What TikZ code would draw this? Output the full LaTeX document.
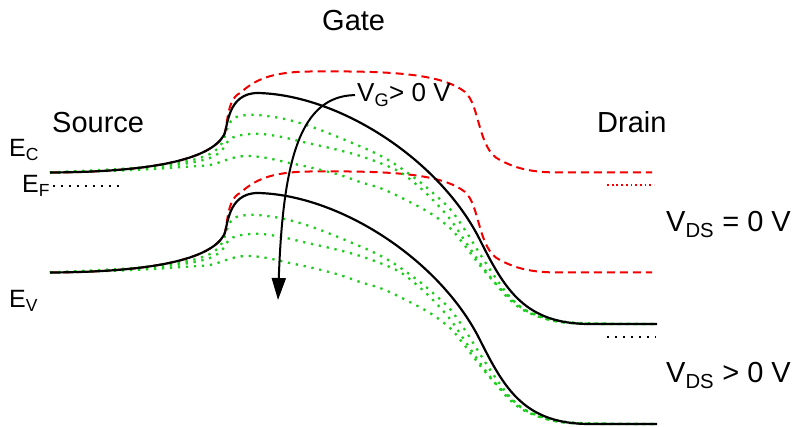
\documentclass[tikz,border=0pt]{standalone}
\usepackage{fontspec}
\setmainfont{Liberation Sans}
\usetikzlibrary{arrows.meta}
\definecolor{bandgreen}{RGB}{30,205,30}
\definecolor{bandred}{RGB}{240,0,0}
\tikzset{
  bandline/.style={line width=2.2pt, black, line join=round},
  vdszero/.style={line width=2pt, bandred, dash pattern=on 8pt off 5pt},
  vgline/.style={line width=2.3pt, bandgreen, dash pattern=on 2.3pt off 5.7pt},
  lbl/.style={inner sep=0pt, anchor=base west, font=\fontsize{29}{34}\selectfont},
  elbl/.style={inner sep=0pt, anchor=base west, font=\fontsize{25}{30}\selectfont},
  vglbl/.style={inner sep=0pt, anchor=base west, font=\fontsize{26}{31}\selectfont},
  arrowline/.style={line width=2pt, -{Triangle[length=22pt,width=14pt]}},
  fermidots/.style={line width=2.2pt, black, dash pattern=on 2.2pt off 5.8pt},
  reddots/.style={line width=2pt, bandred, dash pattern=on 1.8pt off 2.9pt},
}
\begin{document}
\begin{tikzpicture}[x=1pt,y=-1pt]
\useasboundingbox (0,0) rectangle (801,427);
\fill[white] (0,0) rectangle (801,427);
% red dashed (V_DS = 0)
\foreach \dy in {0,100}{
\begin{scope}[shift={(0,\dy)}]
\draw[vdszero] (50,172.5) .. controls (150,172) and (210,160) .. (224,135)
  .. controls (228,127) and (226,100) .. (240,93)
  .. controls (255,80) and (270,72) .. (310,71.5)
  .. controls (380,71) and (440,72) .. (465,92)
  .. controls (480,105) and (478,150) .. (500,160)
  .. controls (515,168) and (530,172.5) .. (560,172.5) -- (652,172.5);
\end{scope}}
% green dotted
\foreach \dy in {0,100}{
\begin{scope}[shift={(0,\dy)}]
\draw[vgline] plot[smooth, tension=0.55] coordinates {(50,172.5) (133,168) (183,162) (210,154) (222,143) (228,127) (234,118) (247,115) (258,115) (280,118) (300,123) (323,131) (350,142) (373,152) (390,161) (405,171) (420,182) (433,193) (450,209) (465,230) (480,254) (495,277) (510,297) (525,310) (550,319) (580,323) (655,324)};
\draw[vgline] plot[smooth, tension=0.55] coordinates {(50,172.5) (133,169) (183,164) (210,158) (222,150) (229,140) (237,136) (250,134) (262,134) (282,137) (303,142) (330,148) (357,155) (380,163) (400,172) (417,185) (432,199) (450,219) (465,241) (480,263) (495,283) (510,300) (525,311) (550,320) (580,323.5) (655,324)};
\draw[vgline] plot[smooth, tension=0.55] coordinates {(50,172.5) (133,170) (183,167) (210,165) (223,161) (237,157) (250,156) (267,158) (285,162) (313,168) (340,175) (360,182) (380,188) (400,197) (430,213) (450,228) (462,242) (475,259) (487,274) (500,288) (512,300) (527,311) (550,320) (580,323.5) (655,324)};
\end{scope}}
% black solid (V_DS > 0)
\foreach \dy in {0,100}{
\begin{scope}[shift={(0,\dy)}]
\draw[bandline] (50,172.5) .. controls (150,172) and (210,160) .. (224,135)
  .. controls (228,127) and (227,93) .. (258,93)
  .. controls (340,95) and (440,160) .. (480,240)
  .. controls (505,290) and (525,324) .. (590,324) -- (657,324);
\end{scope}}
% Fermi levels
\draw[fermidots] (53,186) -- (122,186);
\draw[reddots] (607,185) -- (654,185);
\draw[fermidots] (607,337) -- (656,337);
% labels
\node[lbl] (gate) at (322,31) {Gate};
\node[lbl] (source) at (52,133) {Source};
\node[lbl] (drain) at (597,133) {Drain};
\node[elbl] (ec) at (9,157) {E\textsubscript{C}};
\node[elbl] (ef) at (22,193) {E\textsubscript{F}};
\node[elbl] (ev) at (9,308) {E\textsubscript{V}};
\node[lbl] (vdszerolbl) at (666,232) {V\textsubscript{DS} = 0 V};
\node[lbl] (vdspos) at (666,383) {V\textsubscript{DS} > 0 V};
\node[vglbl] (vg) at (357,102) {V\textsubscript{G}> 0 V};
\coordinate (tip) at (278,300);
\draw[arrowline] ([xshift=-2pt]vg.west) .. controls (300,96) and (283,160) .. (tip);
\end{tikzpicture}
\end{document}
